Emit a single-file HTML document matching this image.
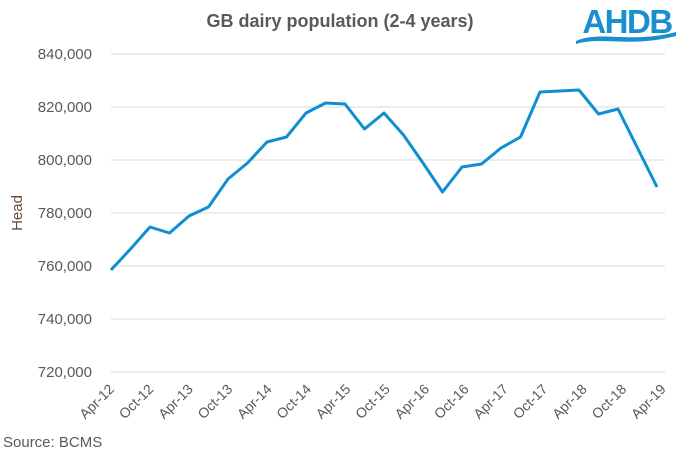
<!DOCTYPE html>
<html><head><meta charset="utf-8"><style>
body{margin:0;background:#fff}
svg{display:block;font-family:"Liberation Sans",Arial,sans-serif}
</style></head><body>
<svg width="680" height="454" viewBox="0 0 680 454" xmlns="http://www.w3.org/2000/svg">
<text x="340" y="27" text-anchor="middle" font-size="18" font-weight="bold" fill="#595959">GB dairy population (2-4 years)</text>
<text x="627" y="33" text-anchor="middle" font-size="33" font-weight="bold" fill="#1a8fd0" letter-spacing="-1.5">AHDB</text>
<path d="M576 41 C600 30,630 44,676 32 L676 36 C630 48,602 36,576 44 Z" fill="#1a8fd0"/>
<g stroke="#d9d9d9" stroke-width="1">
<line x1="111" x2="665" y1="54" y2="54"/><line x1="111" x2="665" y1="107" y2="107"/>
<line x1="111" x2="665" y1="160" y2="160"/><line x1="111" x2="665" y1="213" y2="213"/>
<line x1="111" x2="665" y1="266" y2="266"/><line x1="111" x2="665" y1="319" y2="319"/>
<line x1="111" x2="665" y1="372" y2="372"/>
</g>
<g font-size="15" fill="#595959" text-anchor="end">
<text x="92" y="59">840,000</text><text x="92" y="112">820,000</text>
<text x="92" y="165">800,000</text><text x="92" y="218">780,000</text>
<text x="92" y="271">760,000</text><text x="92" y="324">740,000</text>
<text x="92" y="377">720,000</text>
</g>
<text transform="translate(22,213) rotate(-90)" text-anchor="middle" font-size="15" fill="#6b4a3a">Head</text>
<polyline fill="none" stroke="#0f8fd0" stroke-width="3" stroke-linejoin="round"
points="111,270 130.5,249 150,227 169.5,233 189,216 208.5,207 228,179 247.5,163 267,142 286.5,137 306,113 325.5,103 345,104 364.5,129 384,113 403.5,135 423,163 442.5,192 462,167 481.5,164 501,148 520.5,137 540,92 559.5,91 579,90 598.5,114 618,109 637.5,148 657,187"/>
<g font-size="14" fill="#595959" text-anchor="end">
<text transform="translate(115,390) rotate(-45)">Apr-12</text>
<text transform="translate(154.4,390) rotate(-45)">Oct-12</text>
<text transform="translate(193.8,390) rotate(-45)">Apr-13</text>
<text transform="translate(233.2,390) rotate(-45)">Oct-13</text>
<text transform="translate(272.6,390) rotate(-45)">Apr-14</text>
<text transform="translate(312,390) rotate(-45)">Oct-14</text>
<text transform="translate(351.4,390) rotate(-45)">Apr-15</text>
<text transform="translate(390.8,390) rotate(-45)">Oct-15</text>
<text transform="translate(430.2,390) rotate(-45)">Apr-16</text>
<text transform="translate(469.6,390) rotate(-45)">Oct-16</text>
<text transform="translate(509,390) rotate(-45)">Apr-17</text>
<text transform="translate(548.4,390) rotate(-45)">Oct-17</text>
<text transform="translate(587.8,390) rotate(-45)">Apr-18</text>
<text transform="translate(627.2,390) rotate(-45)">Oct-18</text>
<text transform="translate(666.6,390) rotate(-45)">Apr-19</text>
</g>
<text x="3" y="447" font-size="15" fill="#595959">Source: BCMS</text>
</svg>
</body></html>
